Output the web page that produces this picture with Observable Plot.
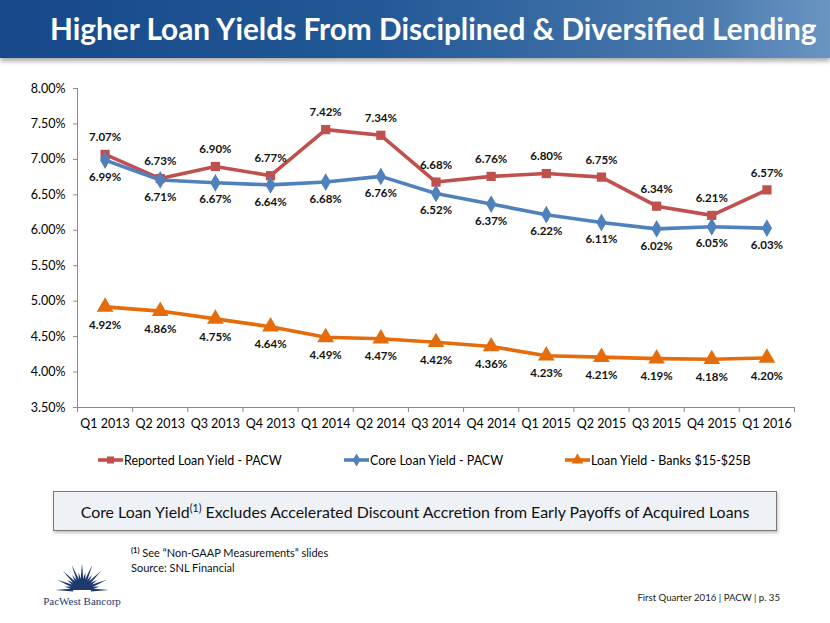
<!DOCTYPE html>
<html><head><meta charset="utf-8">
<script src="https://cdn.jsdelivr.net/npm/d3@7"></script>
<script src="https://cdn.jsdelivr.net/npm/@observablehq/plot@0.6"></script>
<style>
body{margin:0;background:#fff;}
#page{position:relative;width:830px;height:623px;overflow:hidden;font-family:Lato,"Open Sans",sans-serif;background:#fff;}
#band{position:absolute;left:0;top:0;width:830px;height:58px;background:linear-gradient(to right,#16488a 0%,#225896 45%,#4a7aae 85%,#6a95c2 100%);box-shadow:0 3px 5px rgba(0,0,0,0.35);}
#title{position:absolute;left:50px;top:9px;color:#fff;font-weight:bold;font-size:31px;white-space:nowrap;line-height:40px;}
#chart{position:absolute;left:0;top:60px;}
#legend{position:absolute;left:0;top:450px;width:830px;height:20px;font-size:12.5px;color:#000;}
.li{position:absolute;top:0;display:flex;align-items:center;height:20px;white-space:nowrap;}
#box{position:absolute;left:53px;top:491px;width:722px;height:38px;border:1.5px solid #7a7a7a;background:#eef2f7;box-shadow:1px 2px 3px rgba(0,0,0,0.25);}
#boxtext{position:absolute;left:0;top:0;width:722px;height:38px;display:flex;align-items:center;justify-content:center;white-space:nowrap;font-size:16.5px;color:#111;}
#boxtext sup{font-size:10.5px;vertical-align:6px;line-height:0;}
#notes{position:absolute;left:131px;top:545px;font-size:11px;color:#111;line-height:15px;}
#notes sup{font-size:7.5px;font-weight:bold;vertical-align:4px;line-height:0;}
#footer{position:absolute;right:50px;top:592px;font-size:9.6px;color:#222;white-space:nowrap;}
#logo{position:absolute;left:50px;top:553px;overflow:visible;}
</style></head>
<body>
<div id="page">
  <div id="band"><div id="title">Higher Loan Yields From Disciplined &amp; Diversified Lending</div></div>
  <div id="chart"></div>
  <div id="legend"></div>
  <div id="box"><div id="boxtext"><span id="boxinner">Core Loan Yield<sup>(1)</sup> Excludes Accelerated Discount Accretion from Early Payoffs of Acquired Loans</span></div></div>
  <div id="notes"><div><sup>(1)</sup> See “Non-GAAP Measurements” slides</div><div>Source: SNL Financial</div></div>
  <div id="footer">First Quarter 2016 | PACW | p. 35</div>
  <svg id="logo" width="64" height="56"></svg>
</div>
<script>
// ---- data ----
const quarters = ["Q1 2013","Q2 2013","Q3 2013","Q4 2013","Q1 2014","Q2 2014","Q3 2014","Q4 2014","Q1 2015","Q2 2015","Q3 2015","Q4 2015","Q1 2016"];
const reportedYield = [7.07,6.73,6.90,6.77,7.42,7.34,6.68,6.76,6.80,6.75,6.34,6.21,6.57];
const coreYield     = [6.99,6.71,6.67,6.64,6.68,6.76,6.52,6.37,6.22,6.11,6.02,6.05,6.03];
const banksYield    = [4.92,4.86,4.75,4.64,4.49,4.47,4.42,4.36,4.23,4.21,4.19,4.18,4.20];
const yTicks = [3.5,4.0,4.5,5.0,5.5,6.0,6.5,7.0,7.5,8.0];
const seriesNames = ["Reported Loan Yield - PACW","Core Loan Yield - PACW","Loan Yield - Banks $15-$25B"];
const seriesColors = ["#c0504d","#4f81bd","#e46c0a"];
const seriesSymbols = ["square","diamond","triangle"];

const seriesValues = [reportedYield, coreYield, banksYield];
const rows = seriesValues.map((vals, s) => vals.map((v, i) => ({i, q: quarters[i], v, s: seriesNames[s]})));
const fmt = v => v.toFixed(2) + "%";
const labelDy = [-17, 17, 18];
const dotR = [5.2, 5.4, 6.2];

const marks = [
  Plot.ruleY([3.5], {stroke: "#8c8c8c"}),
  Plot.ruleX([-0.5], {stroke: "#8c8c8c"}),
  Plot.axisY({ticks: yTicks, tickFormat: fmt, tickSize: 4, tickPadding: 8, stroke: "#8c8c8c", fill: "#000", label: null}),
  Plot.axisX({ticks: d3.range(-0.5, 13, 1), tickFormat: () => "", tickSize: 5, stroke: "#8c8c8c", label: null}),
  Plot.axisX({ticks: d3.range(0, 13), tickFormat: i => quarters[i], tickSize: 0, tickPadding: 12, fill: "#000", label: null})
];
rows.forEach((data, s) => {
  marks.push(Plot.line(data, {x: "i", y: "v", stroke: seriesColors[s], strokeWidth: 3.6}));
  marks.push(Plot.dot(data, {x: "i", y: "v", fill: seriesColors[s], symbol: seriesSymbols[s], r: dotR[s]}));
  marks.push(Plot.text(data, {x: "i", y: "v", text: d => fmt(d.v), dy: labelDy[s], fontWeight: "bold", fontSize: 11.5, fill: "#111"}));
});

const chart = Plot.plot({
  width: 830, height: 380,
  marginTop: 28, marginBottom: 33, marginLeft: 77, marginRight: 36,
  style: {fontFamily: "Lato, 'Open Sans', sans-serif", fontSize: "12.5px", background: "transparent", overflow: "visible"},
  x: {type: "linear", domain: [-0.5, 12.5], axis: null},
  y: {domain: [3.5, 8.0], axis: null},
  marks
});
document.getElementById("chart").appendChild(chart);

// ---- fit title & box text to reference widths ----
function fitWidth(el, target) {
  const w = el.getBoundingClientRect().width;
  const fs = parseFloat(getComputedStyle(el).fontSize);
  el.style.fontSize = (fs * target / w) + "px";
}
fitWidth(document.getElementById("title"), 767);
fitWidth(document.getElementById("boxinner"), 669);

// ---- legend ----
const legendX = [98, 344, 565];
const legend = document.getElementById("legend");
seriesNames.forEach((name, s) => {
  const item = document.createElement("div");
  item.className = "li";
  item.style.left = legendX[s] + "px";
  const sym = d3.symbol(s === 0 ? d3.symbolSquare : s === 1 ? d3.symbolDiamond : d3.symbolTriangle, s === 2 ? 60 : 50)();
  item.innerHTML = `<svg width="25" height="20"><line x1="0" x2="25" y1="10" y2="10" stroke="${seriesColors[s]}" stroke-width="3.6"/><path d="${sym}" transform="translate(12.5,10)" fill="${seriesColors[s]}"/></svg><span style="margin-left:1px">${name}</span>`;
  legend.appendChild(item);
});

// ---- logo (decorative) ----
const logo = d3.select("#logo");
const cx = 32, cy = 37;
const n = 17;
for (let k = 0; k < n; k++) {
  const a = Math.PI + (k / (n - 1)) * Math.PI;
  const len = k % 2 === 0 ? 27 : 18;
  const w = 0.16;
  const r0 = 9;
  const p = [[cx + r0 * Math.cos(a - w), cy + r0 * Math.sin(a - w)], [cx + len * Math.cos(a), cy + len * Math.sin(a)], [cx + r0 * Math.cos(a + w), cy + r0 * Math.sin(a + w)]];
  logo.append("path").attr("d", "M" + p.join("L") + "Z").attr("fill", "#1d3a6e");
}
logo.append("path").attr("d", `M${cx - 10},${cy} A10,10 0 0 1 ${cx + 10},${cy} Z`).attr("fill", "#1d3a6e");
logo.append("text").attr("x", cx).attr("y", 52).attr("text-anchor", "middle").attr("font-family", "'Liberation Serif', serif").attr("font-size", 11).attr("fill", "#1d3a6e").text("PacWest Bancorp");
</script>
</body></html>
